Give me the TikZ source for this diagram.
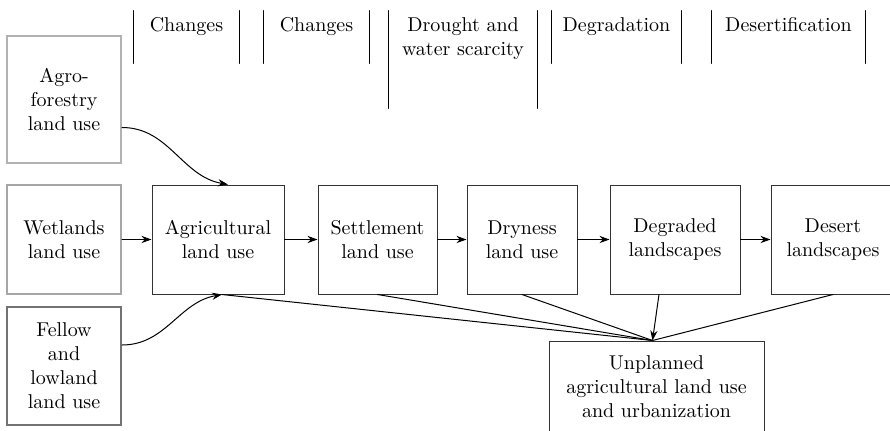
\documentclass[tikz,border=0pt]{standalone}
\usetikzlibrary{arrows.meta,positioning}
\tikzset{
  landbox/.style={draw=black!80, line width=0.5pt, align=center, inner sep=2pt, minimum height=54.5pt},
  sidebox/.style={landbox, line width=1pt, minimum width=57pt},
  colhead/.style={inner sep=0pt, label={[anchor=north,align=center,inner sep=3.3pt]north:#1}},
  link/.style={line width=0.5pt}
}
\begin{document}
\begin{tikzpicture}[x=0.5pt,y=-0.5pt,line cap=round,>={Stealth[length=5pt,width=3.6pt]}]
      \useasboundingbox (0,0) rectangle (890,430);
      \clip (0,0) rectangle (890,430);

      % Column headings with bars on both sides
      \node[colhead=Changes, minimum width=52.5pt, minimum height=26pt] (hChgA) at (186.5,37) {};
      \node[colhead=Changes, minimum width=52.5pt, minimum height=26pt] (hChgB) at (316.5,37) {};
      \node[colhead={Drought and\\water scarcity}, minimum width=74pt, minimum height=48.5pt] (hDrought) at (463,59.5) {};
      \node[colhead=Degradation, minimum width=64.5pt, minimum height=26pt] (hDegr) at (616.5,37) {};
      \node[colhead=Desertification, minimum width=76.5pt, minimum height=26pt] (hDesert) at (788.5,37) {};
      \foreach \h in {hChgA,hChgB,hDrought,hDegr,hDesert}
        \draw[link] (\h.north west) -- (\h.south west) (\h.north east) -- (\h.south east);

      % Former land uses on the left
      \node[sidebox, draw=black!30, minimum height=63.5pt] (agro) at (64,99.5) {Agro-\\forestry\\land use};
      \node[sidebox, draw=black!35] (wet) at (64,239.5) {Wetlands\\land use};
      \node[sidebox, draw=black!55, minimum height=59pt] (fellow) at (64,366) {Fellow\\and\\lowland\\land use};

      % Main chain
      \node[landbox, minimum width=66pt] (agri) at (218,239.5) {Agricultural\\land use};
      \node[landbox, minimum width=59.5pt] (settle) at (377.5,239.5) {Settlement\\land use};
      \node[landbox, minimum width=55pt] (dry) at (522,239.5) {Dryness\\land use};
      \node[landbox, minimum width=65pt] (degr) at (675,239.5) {Degraded\\landscapes};
      \node[landbox, minimum width=62pt] (desert) at (833,239.5) {Desert\\landscapes};

      \node[landbox, minimum width=107.5pt, minimum height=46pt] (unpl) at (656.5,387) {Unplanned\\agricultural land use\\and urbanization};
      \coordinate (meet) at ([xshift=-2pt]unpl.north);

      % Arrows along the chain
      \foreach \a/\b in {wet/agri,agri/settle,settle/dry,dry/degr,degr/desert}
        \draw[link,->] (\a) -- (\b);

      % Curved inputs
      \draw[link,->] ([yshift=-14pt]agro.east) to[out=0,in=170] ([xshift=5pt]agri.north);
      \draw[link,->] ([yshift=10.5pt]fellow.east) to[out=0,in=190] ([xshift=2pt]agri.south);

      % Lines into unplanned land use
      \draw[link] ([xshift=2pt]agri.south) -- (meet);
      \draw[link] (settle.south) -- (meet);
      \draw[link] (dry.south) -- (meet);
      \draw[link,->] ([xshift=-8pt]degr.south) -- (meet);
      \draw[link] (desert.south) -- (meet);
\end{tikzpicture}
\end{document}
